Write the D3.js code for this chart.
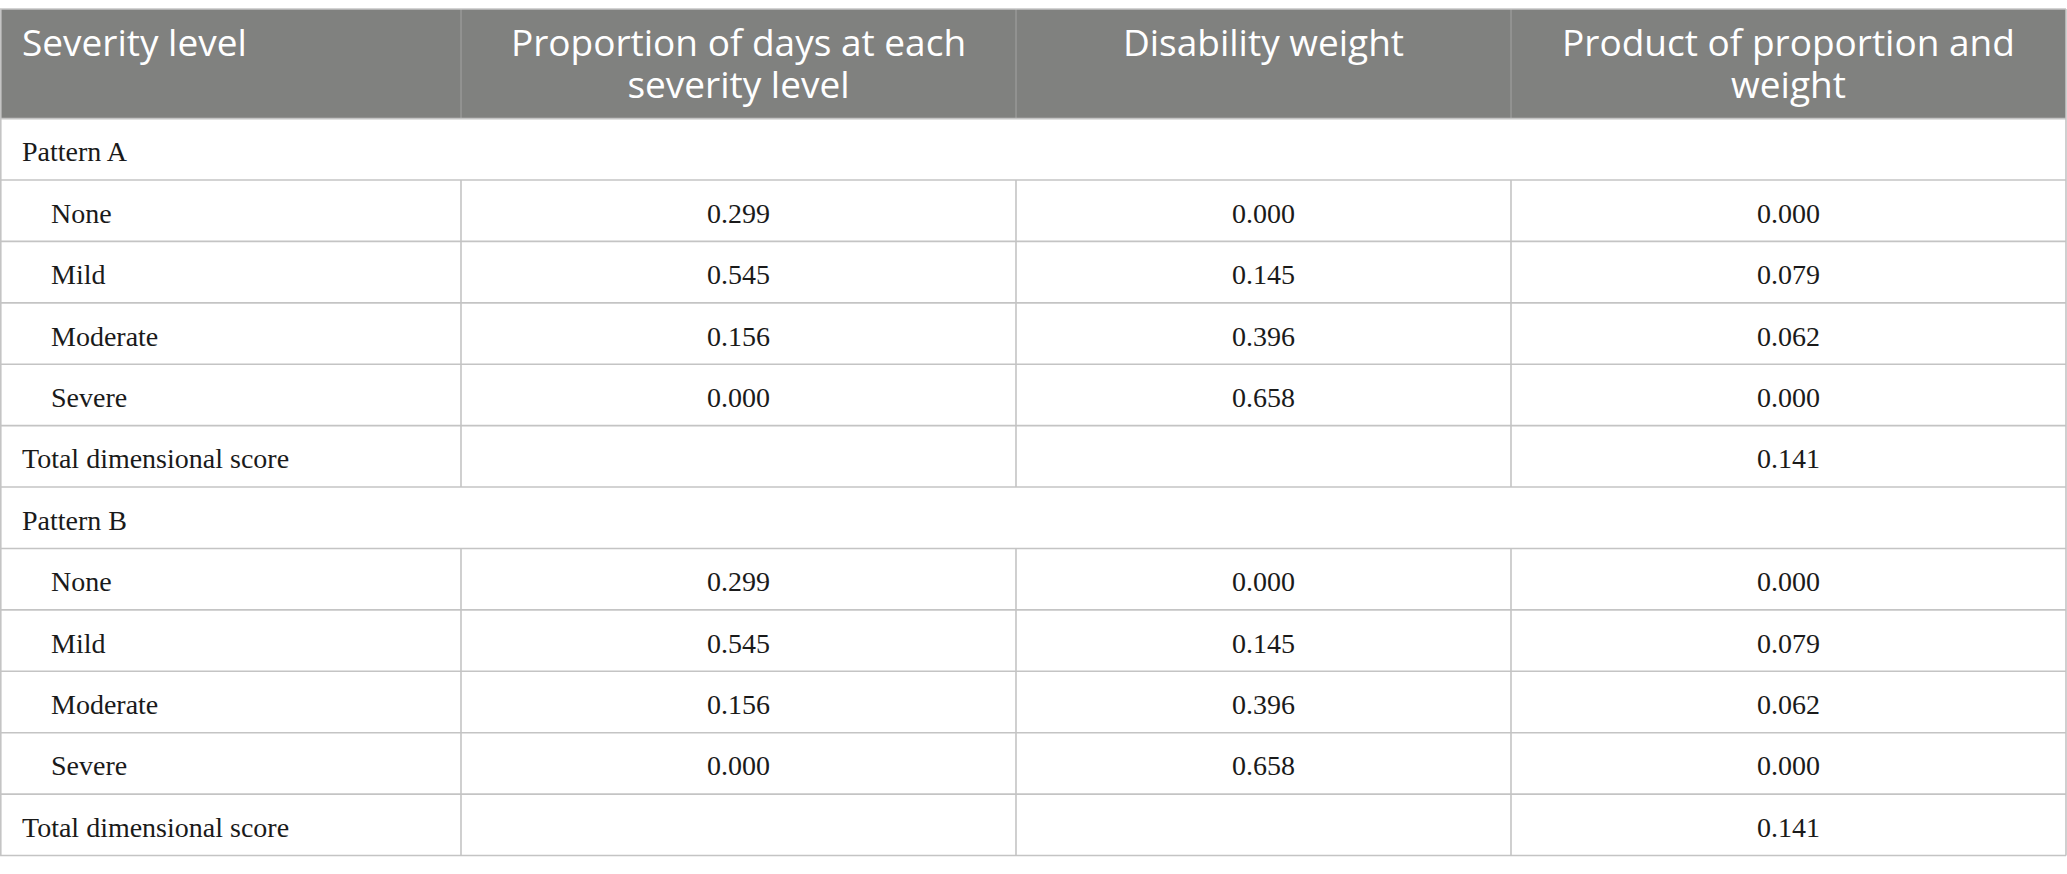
<!DOCTYPE html>
<html>
<head>
<meta charset="utf-8">
<script src="https://cdn.jsdelivr.net/npm/d3@7"></script>
<style>
  html, body { margin: 0; padding: 0; background: #fff; }
  svg { display: block; }
  .head-text { font-family: "Open Sans", sans-serif; font-size: 37px; fill: #fff; }
  .body-text { font-family: "Liberation Serif", "Times New Roman", serif; font-size: 28px; fill: #1a1a1a; }
  .grid line { stroke: #c4c4c4; stroke-width: 1.6px; }
  .head-sep { stroke: #a3a3a3; stroke-width: 1px; }
</style>
</head>
<body>
<svg id="table-svg"></svg>
<script>
// table content
const headerLines = [
    ["Severity level"],
    ["Proportion of days at each", "severity level"],
    ["Disability weight"],
    ["Product of proportion and", "weight"]
];
const patterns = ["Pattern A", "Pattern B"];
const levels = ["None", "Mild", "Moderate", "Severe"];
const totalLabel = "Total dimensional score";

const proportionA = [0.299, 0.545, 0.156, 0.000];
const weightA     = [0.000, 0.145, 0.396, 0.658];
const productA    = [0.000, 0.079, 0.062, 0.000];
const totalA = 0.141;

const proportionB = [0.299, 0.545, 0.156, 0.000];
const weightB     = [0.000, 0.145, 0.396, 0.658];
const productB    = [0.000, 0.079, 0.062, 0.000];
const totalB = 0.141;

const width = 2067, height = 874;
const headTop = 9, headBottom = 118.6, tableBottom = 855.5;
const colEdges = [0, 461, 1016, 1511, 2066];
const fmt = d3.format(".3f");

window.addEventListener('load', function() {
    drawTable();
});

// flatten the two patterns into table rows
function buildRows()
{
    const rows = [];
    const sets = [
        {p: proportionA, w: weightA, q: productA, t: totalA},
        {p: proportionB, w: weightB, q: productB, t: totalB}
    ];
    patterns.forEach((name, k) => {
        const s = sets[k];
        rows.push({type: 'group', cells: [name]});
        levels.forEach((lv, i) => {
            rows.push({type: 'level', cells: [lv, fmt(s.p[i]), fmt(s.w[i]), fmt(s.q[i])]});
        });
        rows.push({type: 'total', cells: [totalLabel, '', '', fmt(s.t)]});
    });
    return rows;
}

function drawTable()
{
    const rows = buildRows();

    const svg = d3.select('#table-svg')
        .attr('width', width)
        .attr('height', height);

    const y = d3.scaleBand()
        .domain(d3.range(rows.length))
        .range([headBottom, tableBottom]);

    const colX = d3.scaleOrdinal()
        .domain(d3.range(4))
        .range(colEdges.slice(0, 4));
    const colW = i => colEdges[i + 1] - colEdges[i];

    // header
    const head = svg.append('g');
    head.append('rect')
        .attr('x', 0).attr('y', headTop)
        .attr('width', colEdges[4]).attr('height', headBottom - headTop)
        .attr('fill', '#80817f');
    head.selectAll('line.head-sep')
        .data(colEdges.slice(1, 4))
        .join('line')
            .classed('head-sep', true)
            .attr('x1', d => d).attr('x2', d => d)
            .attr('y1', headTop).attr('y2', headBottom);
    headerLines.forEach((lines, i) => {
        const hx = i === 0 ? 22 : colX(i) + colW(i) / 2;
        lines.forEach((ln, j) => {
            head.append('text')
                .classed('head-text', true)
                .attr('text-anchor', i === 0 ? 'start' : 'middle')
                .attr('x', hx)
                .attr('y', 56 + j * 42)
                .text(ln);
        });
    });

    // grid lines
    const grid = svg.append('g').classed('grid', true);
    grid.append('line')
        .attr('x1', 0).attr('x2', colEdges[4])
        .attr('y1', headTop).attr('y2', headTop);
    grid.selectAll('line.hr')
        .data(d3.range(rows.length + 1))
        .join('line')
            .attr('class', 'hr')
            .attr('x1', 0).attr('x2', colEdges[4])
            .attr('y1', d => d < rows.length ? y(d) : tableBottom)
            .attr('y2', d => d < rows.length ? y(d) : tableBottom);
    // outer left/right borders
    [0.8, colEdges[4]].forEach(x => {
        grid.append('line')
            .attr('x1', x).attr('x2', x)
            .attr('y1', headTop).attr('y2', tableBottom);
    });
    // inner verticals, not in group rows
    rows.forEach((r, ri) => {
        if (r.type === 'group') return;
        colEdges.slice(1, 4).forEach(x => {
            grid.append('line')
                .attr('x1', x).attr('x2', x)
                .attr('y1', y(ri)).attr('y2', y(ri) + y.bandwidth());
        });
    });

    // body text
    const body = svg.append('g');
    rows.forEach((r, ri) => {
        const by = y(ri) + y.bandwidth() / 2 + 12;
        r.cells.forEach((c, ci) => {
            if (c === '') return;
            const isFirst = ci === 0;
            body.append('text')
                .classed('body-text', true)
                .attr('text-anchor', isFirst ? 'start' : 'middle')
                .attr('x', isFirst ? (r.type === 'level' ? 51 : 22) : colX(ci) + colW(ci) / 2)
                .attr('y', by)
                .text(c);
        });
    });
}
</script>
</body>
</html>
